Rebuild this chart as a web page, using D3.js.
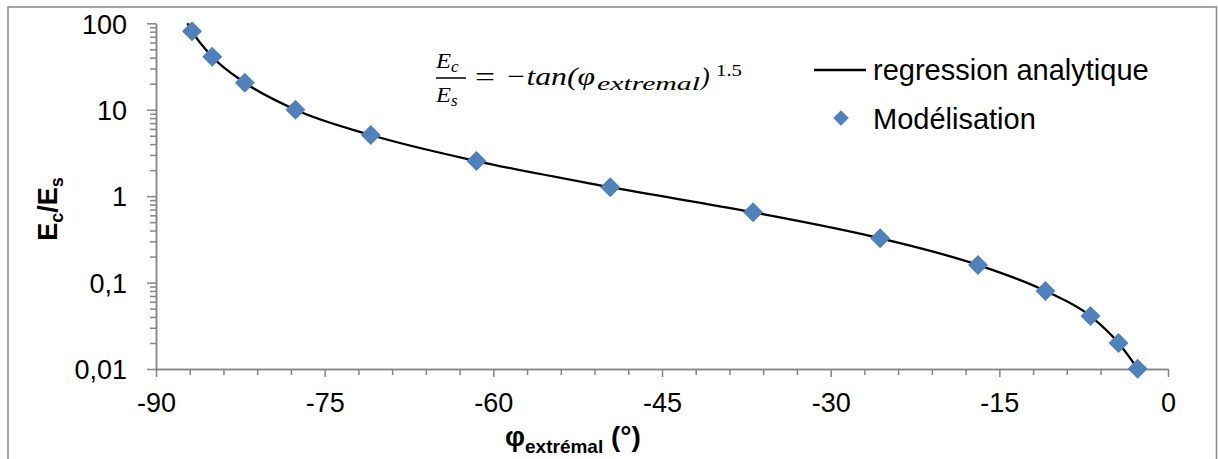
<!DOCTYPE html>
<html><head><meta charset="utf-8">
<script src="https://cdn.jsdelivr.net/npm/d3@7"></script>
<style>body{margin:0;background:#fff} svg{display:block}</style>
</head><body><svg id="c" width="1218" height="459"></svg>
<script>
// Data
const pointsX = [-86.8, -85.0, -82.1, -77.6, -70.9, -61.5, -49.6, -36.9, -25.6, -16.9, -10.9, -6.9, -4.4, -2.7];
const pointsY = [81, 41, 20.5, 10, 5.1, 2.55, 1.27, 0.65, 0.325, 0.16, 0.080, 0.041, 0.020, 0.0101];
const lineX = [-87.2, -86.8, -85.0, -82.1, -77.6, -70.9, -61.5, -49.6, -36.9, -25.6, -16.9, -10.9, -6.9, -4.4, -2.7];
const lineY = [100, 81, 41, 20.5, 10, 5.1, 2.55, 1.27, 0.65, 0.325, 0.16, 0.080, 0.041, 0.020, 0.0101];
const xTicks = [-90, -75, -60, -45, -30, -15, 0];
const xMinorTicks = [-87,-84,-81,-78,-72,-69,-66,-63,-57,-54,-51,-48,-42,-39,-36,-33,-27,-24,-21,-18,-12,-9,-6,-3];
const yTicks = [0.01, 0.1, 1, 10, 100];
const yTickLabels = ["0,01", "0,1", "1", "10", "100"];
const seriesNames = ["regression analytique", "Modélisation"];

const svg = d3.select("#c");
const gray = "#868686";
const blue = "#4F81BD";

// outer border
svg.append("rect").attr("x", 8).attr("y", 7).attr("width", 1208.5).attr("height", 470)
  .attr("fill", "none").attr("stroke", gray).attr("stroke-width", 1.5);

const x = d3.scaleLinear().domain([-90, 0]).range([156, 1168]);
const y = d3.scaleLog().domain([0.01, 100]).range([369, 23.3]);

const font = "'Liberation Sans', Arial, sans-serif";

// minor y ticks
const yMinor = y.ticks().filter(v => !yTicks.some(t => Math.abs(t - v) / t < 1e-9));
const yMinorAxis = svg.append("g").attr("transform", `translate(${x(-90)},0)`)
  .call(d3.axisLeft(y).tickValues(yMinor).tickSize(6).tickSizeOuter(0).tickFormat(""));
const yAxis = svg.append("g").attr("transform", `translate(${x(-90)},0)`)
  .call(d3.axisLeft(y).tickValues(yTicks).tickSize(9).tickSizeOuter(0).tickPadding(20)
    .tickFormat((d, i) => yTickLabels[i]));

const xMinorAxis = svg.append("g").attr("transform", `translate(0,${y(0.01)})`)
  .call(d3.axisBottom(x).tickValues(xMinorTicks).tickSize(6).tickSizeOuter(0).tickFormat(""));
const xAxis = svg.append("g").attr("transform", `translate(0,${y(0.01)})`)
  .call(d3.axisBottom(x).tickValues(xTicks).tickSize(8).tickSizeOuter(0).tickPadding(16)
    .tickFormat(d => String(d)));

[yMinorAxis, yAxis, xMinorAxis, xAxis].forEach(g => {
  g.selectAll("path.domain").attr("stroke", gray).attr("stroke-width", 1.5);
  g.selectAll("line").attr("stroke", gray).attr("stroke-width", 1.5);
  g.selectAll("text").attr("font-family", font).attr("font-size", 27).attr("fill", "#000");
});
yAxis.selectAll("text").attr("dy", "0.36em");

// regression line
const lineData = lineX.map((v, i) => [v, lineY[i]]);
svg.append("path").datum(lineData)
  .attr("d", d3.line().x(d => x(d[0])).y(d => y(d[1])).curve(d3.curveMonotoneX))
  .attr("fill", "none").attr("stroke", "#000").attr("stroke-width", 2.3);

// diamonds
const diamond = d3.symbol().type(d3.symbolSquare);
const pts = pointsX.map((v, i) => [v, pointsY[i]]);
svg.append("g").selectAll("path").data(pts).join("path")
  .attr("d", diamond.size(200)())
  .attr("transform", d => `translate(${x(d[0])},${y(d[1])}) rotate(45)`)
  .attr("fill", blue);

// legend
const leg = svg.append("g");
leg.append("line").attr("x1", 814).attr("x2", 866).attr("y1", 70).attr("y2", 70)
  .attr("stroke", "#000").attr("stroke-width", 2.3);
leg.append("text").attr("x", 873).attr("y", 80).text(seriesNames[0])
  .attr("font-family", font).attr("font-size", 29);
leg.append("path").attr("d", diamond.size(120)())
  .attr("transform", "translate(841,118) rotate(45)").attr("fill", blue);
leg.append("text").attr("x", 873).attr("y", 129).text(seriesNames[1])
  .attr("font-family", font).attr("font-size", 29);

// y axis title: Ec/Es
const yt = svg.append("text").attr("transform", "translate(57,209) rotate(-90)")
  .attr("text-anchor", "middle").attr("font-family", font).attr("font-weight", "bold").attr("font-size", 27);
yt.append("tspan").text("E");
yt.append("tspan").text("c").attr("font-size", 18).attr("dy", 6);
yt.append("tspan").text("/E").attr("dy", -6);
yt.append("tspan").text("s").attr("font-size", 18).attr("dy", 6);

// x axis title
const xt = svg.append("text").attr("x", 505).attr("y", 446)
  .attr("font-family", font).attr("font-weight", "bold").attr("font-size", 28);
xt.append("tspan").text("φ");
xt.append("tspan").text("extrémal").attr("font-size", 19).attr("dy", 7);
xt.append("tspan").text(" (°)").attr("dy", -7).attr("font-size", 28);

// equation
const ef = "'Liberation Serif', 'DejaVu Serif', serif";
const eq = svg.append("g").attr("font-family", ef).attr("font-style", "italic").attr("fill", "#000");
const SG = "spacingAndGlyphs";
eq.append("text").attr("x", 436).attr("y", 68).attr("font-size", 21).attr("textLength", 15).attr("lengthAdjust", SG).text("E");
eq.append("text").attr("x", 451).attr("y", 72).attr("font-size", 17).text("c");
eq.append("line").attr("x1", 436).attr("x2", 466).attr("y1", 78).attr("y2", 78).attr("stroke", "#000").attr("stroke-width", 1.5);
eq.append("text").attr("x", 436).attr("y", 102).attr("font-size", 21).attr("textLength", 15).attr("lengthAdjust", SG).text("E");
eq.append("text").attr("x", 451).attr("y", 106).attr("font-size", 17).text("s");
eq.append("text").attr("x", 475).attr("y", 86).attr("font-size", 28).attr("font-style", "normal").attr("textLength", 20).attr("lengthAdjust", SG).text("=");
eq.append("text").attr("x", 505).attr("y", 85).attr("font-size", 26).attr("textLength", 90).attr("lengthAdjust", SG).text("−tan(φ");
eq.append("text").attr("x", 597).attr("y", 90).attr("font-size", 18).attr("textLength", 103).attr("lengthAdjust", SG).text("extremal");
eq.append("text").attr("x", 701).attr("y", 85).attr("font-size", 26).text(")");
eq.append("text").attr("x", 716).attr("y", 76).attr("font-size", 17).attr("font-style", "normal").attr("textLength", 26).attr("lengthAdjust", SG).text("1.5");
</script></body></html>
